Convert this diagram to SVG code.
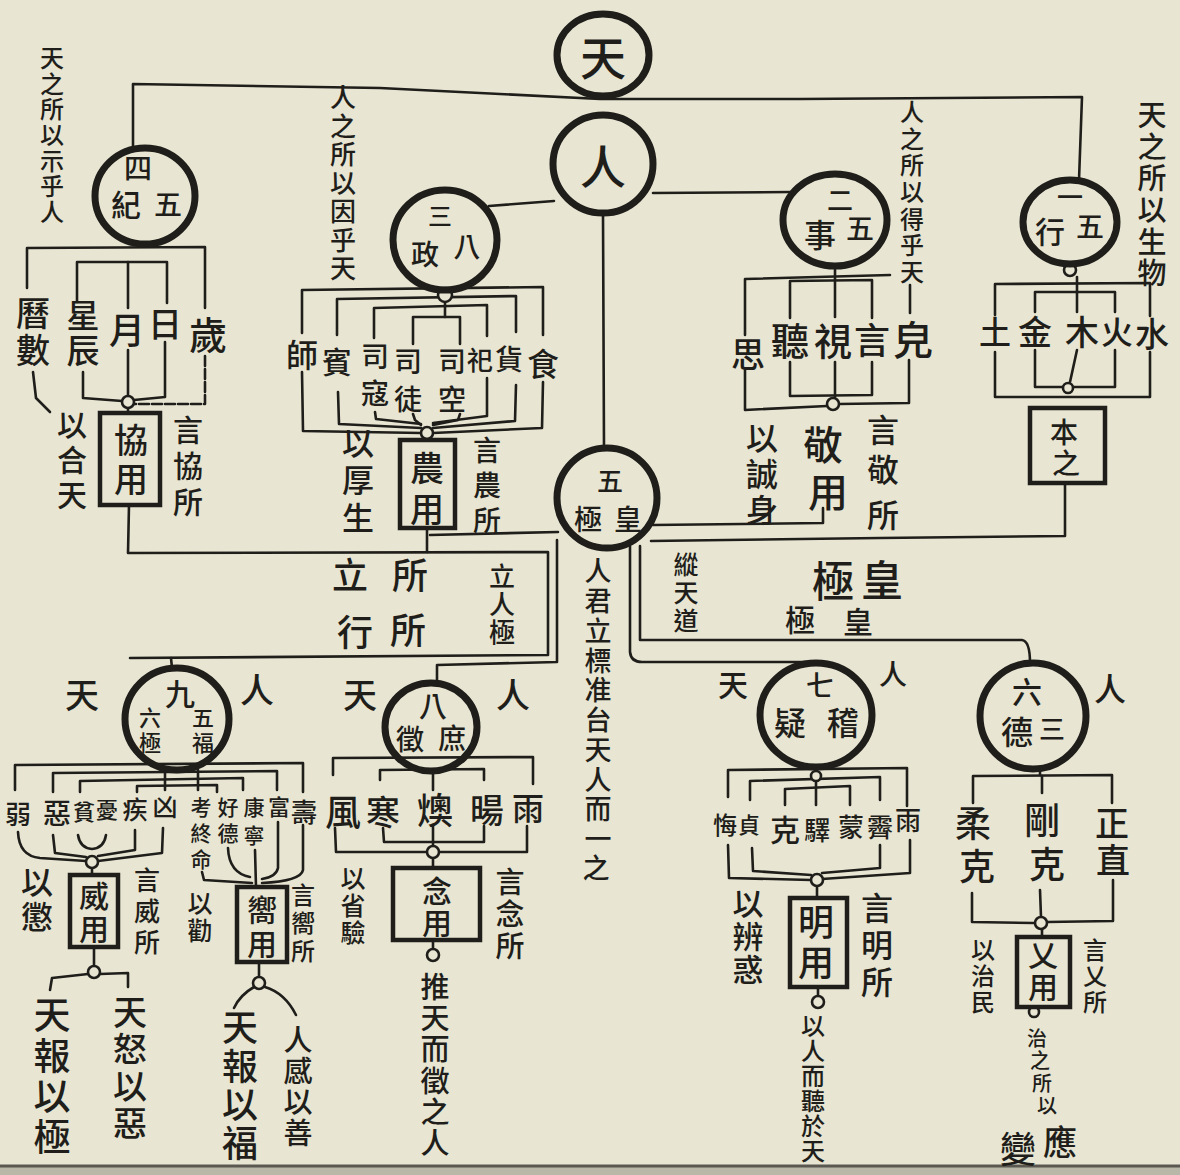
<svg xmlns="http://www.w3.org/2000/svg" width="1180" height="1175" viewBox="0 0 1180 1175">
<style>
text{font-family:"Noto Sans CJK TC","Noto Sans CJK SC",sans-serif;fill:#1f1e1a;text-anchor:middle;dominant-baseline:central;font-weight:500}
.v{writing-mode:vertical-rl}
.ring{fill:none;stroke:#1f1e1a;stroke-width:7}
.ln{fill:none;stroke:#1f1e1a;stroke-width:2.6;stroke-linecap:round;stroke-linejoin:round}
.bx{fill:none;stroke:#1f1e1a;stroke-width:4.5}
.dot{fill:#e8e6d3;stroke:#1f1e1a;stroke-width:2.6}
</style>
<rect x="0" y="0" width="1180" height="1175" fill="#e8e6d3"/>
<rect x="0" y="1166" width="1180" height="9" fill="#b9b7a8"/>
<line x1="0" y1="1166" x2="1180" y2="1166" stroke="#5a5850" stroke-width="3"/>

<g id="connectors" class="ln">
<path d="M133,150 L133,84 L380,88 L600,99 L800,99 L1082,97 L1079,180"/>
<path d="M489,206 L554,201"/>
<path d="M653,193 L791,192"/>
<path d="M603,214 L604,449"/>
<path d="M27,288 L27,248 L205,247 L205,308"/>
<path d="M77,302 L77,262 L167,262 L167,303"/>
<path d="M128,262 L128,308"/>
<path d="M33,372 L36,398 L50,412"/>
<path d="M83,372 L83,398 L122,401"/>
<path d="M128,350 L128,396"/>
<path d="M165,342 L165,397 L134,400"/>
<path d="M205,356 L205,404 L134,404" stroke-dasharray="10 3"/>
<path d="M128,408 L128,413"/>
<path d="M129,505 L128,553 L548,552 L548,655 L130,658"/>
<path d="M557,540 L557,662 L437,665 L437,683"/>
<path d="M171,658 L172,668"/>
<path d="M302,333 L302,290 L543,287 L543,335"/>
<path d="M337,335 L337,299 L516,296 L516,332"/>
<path d="M374,338 L374,308 L487,305 L487,336"/>
<path d="M413,344 L413,317 L460,317 L460,344"/>
<path d="M445,301 L445,317"/>
<path d="M302,372 L303,431 L421,433"/>
<path d="M338,392 L339,424 L421,428"/>
<path d="M375,412 L376,419 L421,424"/>
<path d="M543,382 L542,428 L433,433"/>
<path d="M516,385 L515,421 L433,428"/>
<path d="M487,378 L487,416 L433,423"/>
<path d="M413,414 L415,420 L421,425"/>
<path d="M460,414 L458,420 L433,425"/>
<path d="M427,528 L427,552"/>
<path d="M430,535 L558,532"/>
<path d="M653,525 L823,523 L823,508"/>
<path d="M651,541 L880,538 L1065,536 L1065,483"/>
<path d="M640,546 L640,640 L1022,640 Q1030,641 1030,663"/>
<path d="M630,546 L630,652 Q631,662 642,662 L818,662"/>
<path d="M835,268 L835,317"/>
<path d="M745,335 L745,279 L890,275"/>
<path d="M910,285 L910,313"/>
<path d="M790,318 L790,281 L872,280 L872,318"/>
<path d="M790,362 L790,396 L872,395 L872,362"/>
<path d="M835,362 L835,397"/>
<path d="M745,370 L745,410 L827,406"/>
<path d="M909,360 L909,403 L839,404"/>
<path d="M1077,277 L1077,312"/>
<path d="M995,315 L995,284 L1150,283 L1150,316"/>
<path d="M1035,312 L1035,292 L1115,292 L1115,312"/>
<path d="M1035,350 L1035,387 L1062,387"/>
<path d="M1115,350 L1115,387 L1074,387"/>
<path d="M1077,350 L1070,382"/>
<path d="M995,352 L995,397 L1150,397 L1150,352"/>
<path d="M15,790 L15,765 L303,763 L303,792"/>
<path d="M53,792 L53,773 L277,771 L277,790"/>
<path d="M80,792 L80,781 L243,778 L243,790"/>
<path d="M137,792 L137,786 L217,785 L217,792"/>
<path d="M165,770 L165,790"/>
<path d="M198,770 L198,790"/>
<path d="M18,832 Q19,856 40,858 L86,861"/>
<path d="M53,835 L55,853 L86,857"/>
<path d="M78,835 Q80,848 92,849 Q104,848 106,835"/>
<path d="M135,830 L135,850 L98,856"/>
<path d="M163,828 L162,853 L98,861"/>
<path d="M92,868 L92,875"/>
<path d="M202,872 L204,880 L252,883"/>
<path d="M228,848 Q229,873 250,877"/>
<path d="M255,850 L256,887"/>
<path d="M278,822 L278,868 Q276,877 262,879"/>
<path d="M303,825 L303,870 Q301,881 262,883"/>
<path d="M94,947 L94,966"/>
<path d="M88,974 L52,978 L50,990"/>
<path d="M100,974 L128,973 L128,987"/>
<path d="M259,962 L259,977"/>
<path d="M254,987 Q240,995 234,1008"/>
<path d="M265,987 Q285,993 296,1015"/>
<path d="M333,775 L333,758 L533,757 L533,784"/>
<path d="M380,780 L380,770 L484,769 L484,780"/>
<path d="M433,771 L433,790"/>
<path d="M335,828 L336,852 L427,852"/>
<path d="M527,826 L527,852 L439,852"/>
<path d="M383,828 L384,842 L484,842 L484,826"/>
<path d="M433,826 L433,846"/>
<path d="M433,858 L433,868"/>
<path d="M433,940 L433,949"/>
<path d="M816,767 L816,771"/>
<path d="M728,797 L728,770 L907,768 L907,806"/>
<path d="M750,800 L750,781 L880,777 L880,800"/>
<path d="M785,805 L785,789 L850,786 L850,805"/>
<path d="M816,781 L816,805"/>
<path d="M728,845 L729,878 L811,880"/>
<path d="M910,840 L910,873 L822,879"/>
<path d="M752,848 L753,871 L811,875"/>
<path d="M880,845 L880,868 L822,873"/>
<path d="M817,886 L817,898"/>
<path d="M818,987 L818,996"/>
<path d="M1040,769 L1040,775"/>
<path d="M973,803 L973,776 L1112,775 L1112,803"/>
<path d="M1042,776 L1042,793"/>
<path d="M972,893 L972,922 L1034,923"/>
<path d="M1113,880 L1113,921 L1047,922"/>
<path d="M1040,890 L1041,917"/>
<path d="M1042,929 L1042,937"/>
<circle class="dot" cx="128" cy="402" r="6"/>
<circle class="dot" cx="445" cy="295" r="7"/>
<circle class="dot" cx="427" cy="433" r="6"/>
<circle class="dot" cx="833" cy="404" r="6"/>
<circle class="dot" cx="1070" cy="270" r="6"/>
<circle class="dot" cx="1068" cy="388" r="5"/>
<circle class="dot" cx="92" cy="862" r="6"/>
<circle class="dot" cx="94" cy="972" r="6"/>
<circle class="dot" cx="259" cy="983" r="6"/>
<circle class="dot" cx="433" cy="852" r="6"/>
<circle class="dot" cx="433" cy="955" r="6"/>
<circle class="dot" cx="816" cy="776" r="5"/>
<circle class="dot" cx="817" cy="880" r="6"/>
<circle class="dot" cx="818" cy="1002" r="6"/>
<circle class="dot" cx="1041" cy="923" r="6"/>
<circle class="dot" cx="1034" cy="1012" r="5"/>
</g>

<g id="tian">
<ellipse class="ring" cx="603" cy="55" rx="46" ry="41"/>
<text x="603" y="55" style="font-size:46px">天</text>
</g>
<g id="ren">
<ellipse class="ring" cx="603" cy="164" rx="50" ry="49"/>
<text x="603" y="164" style="font-size:46px">人</text>
</g>

<g id="wuji">
<ellipse class="ring" cx="145" cy="196" rx="50" ry="48"/>
<text x="138" y="167" style="font-size:28px">四</text>
<text x="126" y="203" style="font-size:30px">紀</text>
<text x="168" y="203" style="font-size:28px">五</text>
<g class="v" style="font-size:24px"><text x="52" y="58">天</text><text x="52" y="84">之</text><text x="52" y="109">所</text><text x="52" y="135">以</text><text x="52" y="161">示</text><text x="52" y="186">乎</text><text x="52" y="212">人</text></g>
<g class="v" style="font-size:34px"><text x="33" y="313">曆</text><text x="33" y="350">數</text></g>
<g class="v" style="font-size:33px"><text x="83" y="315">星</text><text x="83" y="350">辰</text></g>
<text x="127" y="328" style="font-size:36px">月</text>
<text x="165" y="322" style="font-size:34px">日</text>
<text x="208" y="332" style="font-size:38px">歲</text>
<rect class="bx" x="100" y="413" width="60" height="92"/>
<g class="v" style="font-size:34px"><text x="131" y="440">協</text><text x="131" y="479">用</text></g>
<g class="v" style="font-size:30px"><text x="72" y="425">以</text><text x="72" y="460">合</text><text x="72" y="495">天</text></g>
<g class="v" style="font-size:30px"><text x="188" y="430">言</text><text x="188" y="466">協</text><text x="188" y="502">所</text></g>
</g>

<g id="bazheng">
<ellipse class="ring" cx="445" cy="240" rx="52" ry="50"/>
<text x="440" y="214" style="font-size:24px">三</text>
<text x="425" y="253" style="font-size:28px">政</text>
<text x="467" y="245" style="font-size:27px">八</text>
<g class="v" style="font-size:26px"><text x="343" y="97">人</text><text x="343" y="126">之</text><text x="343" y="154">所</text><text x="343" y="183">以</text><text x="343" y="211">因</text><text x="343" y="240">乎</text><text x="343" y="268">天</text></g>
<text x="302" y="353" style="font-size:32px">師</text>
<text x="337" y="360" style="font-size:30px">賓</text>
<g style="font-size:28px"><text x="375" y="355">司</text><text x="375" y="392">寇</text><text x="408" y="360">司</text><text x="408" y="398">徒</text><text x="452" y="360">司</text><text x="452" y="398">空</text></g>
<text x="480" y="358" style="font-size:26px">祀</text>
<text x="509" y="358" style="font-size:28px">貨</text>
<text x="543" y="362" style="font-size:32px">食</text>
<rect class="bx" x="400" y="440" width="55" height="88"/>
<g class="v" style="font-size:34px"><text x="427" y="468">農</text><text x="427" y="509">用</text></g>
<g class="v" style="font-size:32px"><text x="358" y="443">以</text><text x="358" y="480">厚</text><text x="358" y="518">生</text></g>
<g class="v" style="font-size:28px"><text x="487" y="450">言</text><text x="487" y="485">農</text><text x="487" y="520">所</text></g>
</g>

<g id="wushi">
<ellipse class="ring" cx="835" cy="220" rx="52" ry="46"/>
<text x="840" y="198" style="font-size:26px">二</text>
<text x="820" y="233" style="font-size:32px">事</text>
<text x="860" y="227" style="font-size:28px">五</text>
<g class="v" style="font-size:24px"><text x="912" y="112">人</text><text x="912" y="139">之</text><text x="912" y="165">所</text><text x="912" y="192">以</text><text x="912" y="219">得</text><text x="912" y="245">乎</text><text x="912" y="272">天</text></g>
<text x="748" y="352" style="font-size:34px">思</text>
<text x="790" y="338" style="font-size:38px">聽</text>
<text x="833" y="338" style="font-size:38px">視</text>
<text x="872" y="338" style="font-size:36px">言</text>
<text x="913" y="338" style="font-size:40px">皃</text>
<g class="v" style="font-size:40px"><text x="823" y="445">敬</text><text x="828" y="492">用</text></g>
<g class="v" style="font-size:32px"><text x="762" y="438">以</text><text x="762" y="474">誠</text><text x="762" y="510">身</text></g>
<g class="v" style="font-size:32px"><text x="883" y="430">言</text><text x="883" y="470">敬</text><text x="883" y="515">所</text></g>
</g>

<g id="wuxing">
<ellipse class="ring" cx="1070" cy="222" rx="47" ry="42"/>
<text x="1070" y="195" style="font-size:26px">一</text>
<text x="1050" y="230" style="font-size:30px">行</text>
<text x="1090" y="225" style="font-size:28px">五</text>
<g class="v" style="font-size:29px"><text x="1152" y="115">天</text><text x="1152" y="147">之</text><text x="1152" y="178">所</text><text x="1152" y="210">以</text><text x="1152" y="242">生</text><text x="1152" y="273">物</text></g>
<text x="995" y="330" style="font-size:32px">土</text>
<text x="1035" y="330" style="font-size:34px">金</text>
<text x="1082" y="330" style="font-size:34px">木</text>
<text x="1117" y="330" style="font-size:32px">火</text>
<text x="1152" y="332" style="font-size:34px">水</text>
<rect class="bx" x="1030" y="408" width="75" height="75"/>
<g class="v" style="font-size:28px"><text x="1064" y="432">本</text><text x="1066" y="463">之</text></g>
</g>

<g id="huangji">
<ellipse class="ring" cx="607" cy="498" rx="50" ry="50"/>
<text x="610" y="479" style="font-size:26px">五</text>
<text x="588" y="518" style="font-size:28px">極</text>
<text x="628" y="518" style="font-size:28px">皇</text>
<text x="350" y="573" style="font-size:36px">立</text>
<text x="410" y="573" style="font-size:36px">所</text>
<text x="355" y="630" style="font-size:36px">行</text>
<text x="408" y="628" style="font-size:36px">所</text>
<g class="v" style="font-size:26px"><text x="502" y="576">立</text><text x="502" y="604">人</text><text x="502" y="632">極</text></g>
<g class="v" style="font-size:27px"><text x="598" y="571">人</text><text x="598" y="601">君</text><text x="598" y="631">立</text><text x="598" y="661">標</text><text x="598" y="690">准</text><text x="598" y="720">台</text><text x="598" y="750">天</text><text x="598" y="780">人</text><text x="598" y="809">而</text><text x="598" y="839">一</text><text x="596" y="868">之</text></g>
<g class="v" style="font-size:25px"><text x="686" y="564">縱</text><text x="686" y="592">天</text><text x="686" y="620">道</text></g>
<text x="833" y="578" style="font-size:42px">極</text>
<text x="882" y="577" style="font-size:42px">皇</text>
<text x="800" y="618" style="font-size:30px">極</text>
<text x="858" y="620" style="font-size:30px">皇</text>
</g>

<g id="fuji">
<ellipse class="ring" cx="177" cy="719" rx="52" ry="51"/>
<text x="180" y="692" style="font-size:30px">九</text>
<g class="v" style="font-size:22px"><text x="150" y="718">六</text><text x="150" y="743">極</text><text x="203" y="718">五</text><text x="203" y="743">福</text></g>
<text x="82" y="693" style="font-size:34px">天</text>
<text x="257" y="688" style="font-size:34px">人</text>
<text x="18" y="812" style="font-size:26px">弱</text>
<text x="57" y="812" style="font-size:28px">惡</text>
<text x="84" y="810" style="font-size:22px">貧</text>
<text x="107" y="808" style="font-size:22px">憂</text>
<text x="135" y="808" style="font-size:25px">疾</text>
<text x="165" y="805" style="font-size:25px">凶</text>
<g class="v" style="font-size:21px"><text x="201" y="807">考</text><text x="201" y="833">終</text><text x="201" y="859">命</text><text x="228" y="807">好</text><text x="228" y="833">德</text><text x="254" y="807">康</text><text x="254" y="835">寧</text></g>
<text x="279" y="805" style="font-size:22px">富</text>
<text x="304" y="810" style="font-size:26px">壽</text>
<rect class="bx" x="70" y="875" width="48" height="72"/>
<g class="v" style="font-size:30px"><text x="94" y="896">威</text><text x="94" y="929">用</text></g>
<g class="v" style="font-size:32px"><text x="37" y="882">以</text><text x="37" y="917">懲</text></g>
<g class="v" style="font-size:26px"><text x="147" y="880">言</text><text x="147" y="911">威</text><text x="147" y="942">所</text></g>
<g class="v" style="font-size:37px"><text x="52" y="1015">天</text><text x="52" y="1056">報</text><text x="52" y="1096">以</text><text x="52" y="1137">極</text></g>
<g class="v" style="font-size:34px"><text x="130" y="1012">天</text><text x="130" y="1049">怒</text><text x="130" y="1086">以</text><text x="130" y="1123">惡</text></g>
<rect class="bx" x="237" y="887" width="50" height="75"/>
<g class="v" style="font-size:30px"><text x="262" y="910">嚮</text><text x="262" y="944">用</text></g>
<g class="v" style="font-size:25px"><text x="200" y="903">以</text><text x="200" y="930">勸</text></g>
<g class="v" style="font-size:24px"><text x="303" y="895">言</text><text x="303" y="923">嚮</text><text x="303" y="951">所</text></g>
<g class="v" style="font-size:36px"><text x="240" y="1027">天</text><text x="240" y="1066">報</text><text x="240" y="1104">以</text><text x="240" y="1143">福</text></g>
<g class="v" style="font-size:29px"><text x="298" y="1040">人</text><text x="298" y="1071">感</text><text x="298" y="1102">以</text><text x="298" y="1133">善</text></g>
</g>

<g id="shuzheng">
<ellipse class="ring" cx="431" cy="727" rx="46" ry="44"/>
<text x="433" y="705" style="font-size:28px">八</text>
<text x="410" y="738" style="font-size:28px">徵</text>
<text x="452" y="737" style="font-size:28px">庶</text>
<text x="360" y="693" style="font-size:34px">天</text>
<text x="513" y="693" style="font-size:34px">人</text>
<text x="343" y="810" style="font-size:36px">風</text>
<text x="383" y="810" style="font-size:34px">寒</text>
<text x="435" y="808" style="font-size:36px">燠</text>
<text x="487" y="808" style="font-size:34px">暘</text>
<text x="528" y="806" style="font-size:32px">雨</text>
<rect class="bx" x="393" y="868" width="87" height="72"/>
<g class="v" style="font-size:30px"><text x="437" y="891">念</text><text x="437" y="923">用</text></g>
<g class="v" style="font-size:25px"><text x="353" y="878">以</text><text x="353" y="905">省</text><text x="353" y="932">驗</text></g>
<g class="v" style="font-size:29px"><text x="510" y="882">言</text><text x="510" y="914">念</text><text x="510" y="946">所</text></g>
<g class="v" style="font-size:29px"><text x="435" y="987">推</text><text x="435" y="1018">天</text><text x="435" y="1049">而</text><text x="435" y="1081">徵</text><text x="435" y="1112">之</text><text x="435" y="1143">人</text></g>
</g>

<g id="jiyi">
<ellipse class="ring" cx="816" cy="715" rx="56" ry="52"/>
<text x="820" y="684" style="font-size:28px">七</text>
<text x="790" y="721" style="font-size:32px">疑</text>
<text x="843" y="721" style="font-size:32px">稽</text>
<text x="733" y="683" style="font-size:30px">天</text>
<text x="893" y="673" style="font-size:28px">人</text>
<text x="725" y="823" style="font-size:24px">悔</text>
<text x="749" y="823" style="font-size:22px">貞</text>
<text x="785" y="828" style="font-size:30px">克</text>
<text x="817" y="828" style="font-size:26px">驛</text>
<text x="851" y="825" style="font-size:26px">蒙</text>
<text x="880" y="825" style="font-size:26px">霽</text>
<text x="908" y="818" style="font-size:26px">雨</text>
<rect class="bx" x="790" y="898" width="57" height="89"/>
<g class="v" style="font-size:36px"><text x="816" y="922">明</text><text x="816" y="962">用</text></g>
<g class="v" style="font-size:31px"><text x="748" y="903">以</text><text x="748" y="936">辨</text><text x="748" y="969">惑</text></g>
<g class="v" style="font-size:32px"><text x="877" y="908">言</text><text x="877" y="945">明</text><text x="877" y="982">所</text></g>
<g class="v" style="font-size:24px"><text x="813" y="1026">以</text><text x="813" y="1051">人</text><text x="813" y="1076">而</text><text x="813" y="1101">聽</text><text x="813" y="1126">於</text><text x="813" y="1151">天</text></g>
</g>

<g id="sande">
<ellipse class="ring" cx="1033" cy="716" rx="53" ry="53"/>
<text x="1027" y="690" style="font-size:30px">六</text>
<text x="1017" y="730" style="font-size:32px">德</text>
<text x="1052" y="727" style="font-size:26px">三</text>
<text x="1110" y="687" style="font-size:32px">人</text>
<g class="v" style="font-size:36px"><text x="973" y="823">柔</text><text x="977" y="866">克</text><text x="1042" y="820">剛</text><text x="1047" y="864">克</text></g>
<g class="v" style="font-size:34px"><text x="1112" y="823">正</text><text x="1113" y="860">直</text></g>
<rect class="bx" x="1017" y="937" width="53" height="70"/>
<g class="v" style="font-size:30px"><text x="1043" y="955">乂</text><text x="1043" y="987">用</text></g>
<g class="v" style="font-size:24px"><text x="983" y="950">以</text><text x="983" y="976">治</text><text x="983" y="1002">民</text><text x="1095" y="950">言</text><text x="1095" y="976">乂</text><text x="1095" y="1002">所</text></g>
<g class="v" style="font-size:20px"><text x="1037" y="1038">治</text><text x="1040" y="1060">之</text><text x="1042" y="1083">所</text><text x="1047" y="1105">以</text></g>
<text x="1060" y="1140" style="font-size:34px">應</text>
<text x="1018" y="1147" style="font-size:36px">變</text>
</g>
</svg>
